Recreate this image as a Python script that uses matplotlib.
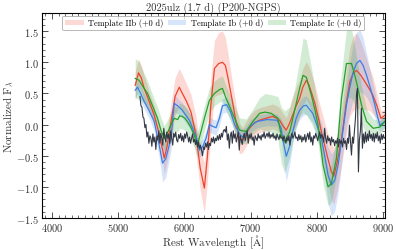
import numpy as np
import matplotlib
matplotlib.use("Agg")
import matplotlib.pyplot as plt
from matplotlib.ticker import MultipleLocator

plt.rcParams['font.family'] = ['cmr10', 'DejaVu Serif']
plt.rcParams['mathtext.fontset'] = 'cm'
plt.rcParams['axes.formatter.use_mathtext'] = True

# observed spectrum (normalized)
obs_wl = [5330, 5345, 5360, 5375, 5390, 5405, 5420, 5435, 5450, 5465, 5480, 5495, 5510, 5525, 5540,
          5555, 5570, 5585, 5600, 5615, 5630, 5645, 5660, 5675, 5690, 5705, 5720, 5735, 5750, 5765,
          5780, 5795, 5810, 5825, 5840, 5855, 5870, 5885, 5900, 5915, 5930, 5945, 5960, 5975, 5990,
          6005, 6020, 6035, 6050, 6065, 6080, 6095, 6110, 6125, 6140, 6155, 6170, 6185, 6200, 6215,
          6230, 6245, 6260, 6275, 6290, 6305, 6320, 6335, 6350, 6365, 6380, 6395, 6410, 6425, 6440,
          6455, 6470, 6485, 6500, 6515, 6530, 6545, 6560, 6575, 6590, 6605, 6620, 6635, 6650, 6665,
          6680, 6695, 6710, 6725, 6740, 6755, 6770, 6785, 6800, 6815, 6830, 6845, 6860, 6875, 6890,
          6905, 6920, 6935, 6950, 6965, 6980, 6995, 7010, 7025, 7040, 7055, 7070, 7085, 7100, 7115,
          7130, 7145, 7160, 7175, 7190, 7205, 7220, 7235, 7250, 7265, 7280, 7295, 7310, 7325, 7340,
          7355, 7370, 7385, 7400, 7415, 7430, 7445, 7460, 7475, 7490, 7505, 7520, 7535, 7550, 7565,
          7580, 7595, 7610, 7625, 7640, 7655, 7670, 7685, 7700, 7715, 7730, 7745, 7760, 7775, 7790,
          7805, 7820, 7835, 7850, 7865, 7880, 7895, 7910, 7925, 7940, 7955, 7970, 7985, 8000, 8015,
          8030, 8045, 8060, 8075, 8090, 8105, 8120, 8135, 8150, 8165, 8180, 8195, 8210, 8225, 8240,
          8255, 8270, 8285, 8300, 8315, 8330, 8345, 8360, 8375, 8390, 8405, 8420, 8435, 8450, 8465,
          8480, 8495, 8510, 8525, 8540, 8555, 8570, 8585, 8600, 8615, 8630, 8645, 8660, 8675, 8690,
          8705, 8720, 8735, 8750, 8765, 8780, 8795, 8810, 8825, 8840, 8855, 8870, 8885, 8900, 8915,
          8930, 8945, 8960, 8975, 8990, 9005, 9020]
obs_flux = [0.45, 0.30, 0.28, 0.12, 0.10, -0.05, 0.00, -0.20, -0.12, -0.30, -0.18, -0.22, -0.35, -0.15, -0.28,
            -0.20, -0.40, -0.18, -0.25, -0.10, -0.30, -0.14, -0.22, -0.33, -0.06, -0.20, -0.28, -0.12, -0.22, -0.15,
            -0.30, -0.10, -0.22, -0.33, -0.14, -0.20, -0.12, -0.25, -0.28, -0.16, -0.22, -0.14, -0.26, -0.18, -0.28,
            -0.15, -0.22, -0.12, -0.18, -0.28, -0.20, -0.30, -0.22, -0.15, -0.28, -0.24, -0.32, -0.25, -0.36, -0.28,
            -0.38, -0.33, -0.42, -0.50, -0.36, -0.40, -0.30, -0.36, -0.28, -0.40, -0.30, -0.34, -0.22, -0.28, -0.20,
            -0.30, -0.22, -0.26, -0.18, -0.25, -0.16, -0.24, -0.14, -0.20, -0.10, -0.08, -0.12, -0.03, -0.25, -0.15,
            -0.38, -0.18, -0.12, -0.30, -0.10, -0.22, -0.15, -0.28, -0.20, -0.12, -0.41, -0.18, -0.25, -0.32, -0.20,
            -0.14, -0.26, -0.18, -0.10, -0.30, -0.16, -0.22, -0.14, -0.25, -0.20, -0.33, -0.18, -0.22, -0.26, -0.15,
            -0.22, -0.18, -0.25, -0.16, -0.20, -0.12, -0.22, -0.18, -0.14, -0.20, -0.12, -0.22, -0.16, -0.20, -0.14,
            -0.22, -0.18, -0.25, -0.15, -0.20, -0.24, -0.16, -0.22, -0.20, -0.26, -0.18, -0.24, -0.30, -0.20, -0.26,
            -0.18, -0.33, -0.20, -0.14, -0.22, -0.18, -0.12, -0.22, -0.20, -0.26, -0.16, -0.24, -0.18, -0.28, -0.20,
            -0.25, -0.16, -0.28, -0.20, -0.14, -0.24, -0.12, -0.28, -0.20, -0.33, -0.18, -0.22, -0.14, -0.20, -0.26,
            -0.18, -0.12, -0.22, -0.16, -0.20, -0.28, -0.06, -0.22, -0.30, -0.18, -0.26, -0.22, -0.33, -0.20, -0.28,
            -0.24, -0.34, -0.26, -0.30, -0.22, -0.36, -0.24, -0.30, -0.26, -0.36, -0.22, -0.30, -0.26, -0.40, -0.22,
            -0.30, -0.01, -0.28, -0.49, -0.20, -0.30, -0.10, 0.10, 0.47, 0.58, -0.76, -0.25, -0.10, 0.26, -0.38,
            -0.15, -0.30, -0.12, -0.28, -0.15, -0.26, -0.10, -0.22, -0.16, -0.26, -0.14, -0.28, -0.15, -0.22, -0.12,
            -0.26, -0.18, -0.30, -0.15, -0.24, -0.16, -0.22]

# template IIb
iib_wl = [5258, 5308, 5350, 5394, 5470, 5545, 5620, 5671, 5697, 5740, 5800, 5860, 5924, 5970, 6030,
          6101, 6177, 6240, 6303, 6350, 6400, 6455, 6520, 6576, 6620, 6652, 6690, 6727, 6780, 6833,
          6879, 6930, 6985, 7060, 7136, 7230, 7333, 7400, 7439, 7490, 7540, 7590, 7636, 7690, 7742,
          7790, 7843, 7880, 7919, 7970, 8015, 8090, 8167, 8220, 8258, 8310, 8374, 8440, 8500, 8550,
          8601, 8660, 8727, 8790, 8848, 8910, 8970, 9030]
iib_flux = [0.63, 0.83, 0.75, 0.58, 0.37, 0.15, -0.15, -0.40, -0.54, -0.35, 0.05, 0.45, 0.60, 0.50, 0.38,
            0.20, -0.17, -0.70, -1.02, -0.50, 0.30, 0.90, 0.98, 1.00, 0.95, 0.79, 0.58, 0.37, 0.05, -0.22,
            -0.25, -0.15, -0.06, 0.03, 0.07, 0.10, 0.13, 0.10, 0.07, -0.02, -0.09, 0.02, 0.15, 0.30, 0.42,
            0.60, 0.71, 0.64, 0.52, 0.35, 0.15, -0.20, -0.54, -0.75, -0.83, -0.60, -0.22, 0.30, 0.69, 0.82,
            0.87, 0.80, 0.69, 0.58, 0.47, 0.30, 0.10, 0.15]
iib_err = [0.22, 0.22, 0.2, 0.2, 0.15, 0.15, 0.15, 0.2, 0.25, 0.25, 0.3, 0.3, 0.3, 0.3, 0.28,
           0.28, 0.3, 0.35, 0.4, 0.4, 0.45, 0.45, 0.5, 0.5, 0.45, 0.4, 0.35, 0.3, 0.28, 0.25,
           0.2, 0.2, 0.2, 0.2, 0.2, 0.2, 0.2, 0.2, 0.2, 0.2, 0.2, 0.25, 0.28, 0.3, 0.3,
           0.3, 0.3, 0.3, 0.3, 0.3, 0.3, 0.35, 0.4, 0.45, 0.45, 0.45, 0.45, 0.5, 0.55, 0.6,
           0.6, 0.55, 0.45, 0.35, 0.3, 0.2, 0.12, 0.1]

# template Ib
ib_wl = [5258, 5293, 5340, 5394, 5470, 5545, 5621, 5671, 5720, 5798, 5848, 5900, 5970, 6076, 6177,
         6227, 6280, 6328, 6379, 6430, 6480, 6530, 6576, 6640, 6700, 6760, 6833, 6880, 6950, 7000,
         7100, 7250, 7400, 7460, 7500, 7540, 7590, 7636, 7690, 7742, 7800, 7843, 7939, 8000, 8071,
         8120, 8171, 8222, 8270, 8323, 8390, 8449, 8500, 8550, 8600, 8652, 8700, 8753, 8820, 8879,
         8920, 8955, 9030]
ib_flux = [0.55, 0.60, 0.50, 0.37, 0.22, 0.05, -0.33, -0.62, -0.55, -0.22, 0.34, 0.30, 0.23, 0.07, -0.19,
           -0.41, -0.35, -0.22, 0.00, -0.03, -0.05, 0.10, 0.30, 0.32, 0.20, 0.00, -0.15, -0.20, -0.10, -0.02,
           0.05, 0.08, 0.07, -0.05, -0.30, -0.51, -0.35, -0.12, 0.10, 0.23, 0.30, 0.31, 0.18, 0.00, -0.22,
           -0.50, -0.81, -0.97, -0.90, -0.65, -0.15, 0.31, 0.60, 0.84, 0.98, 1.03, 0.95, 0.79, 0.55, 0.31,
           0.12, -0.01, 0.05]
ib_err = [0.12, 0.12, 0.12, 0.12, 0.12, 0.15, 0.2, 0.3, 0.3, 0.2, 0.15, 0.12, 0.12, 0.12, 0.12,
          0.12, 0.12, 0.12, 0.12, 0.12, 0.12, 0.12, 0.12, 0.12, 0.12, 0.12, 0.12, 0.12, 0.1, 0.1,
          0.1, 0.1, 0.1, 0.15, 0.3, 0.4, 0.3, 0.2, 0.15, 0.15, 0.15, 0.15, 0.15, 0.2, 0.25,
          0.35, 0.45, 0.5, 0.5, 0.45, 0.35, 0.35, 0.4, 0.45, 0.5, 0.5, 0.45, 0.35, 0.25, 0.2,
          0.15, 0.1, 0.1]

# template Ic
ic_wl = [5258, 5318, 5380, 5444, 5520, 5595, 5650, 5697, 5760, 5820, 5848, 5900, 5930, 5970, 6010,
         6045, 6100, 6152, 6197, 6250, 6303, 6379, 6455, 6530, 6576, 6631, 6680, 6727, 6780, 6833,
         6934, 7030, 7136, 7220, 7313, 7414, 7465, 7515, 7590, 7667, 7742, 7793, 7843, 7919, 7970,
         8020, 8096, 8171, 8220, 8298, 8374, 8449, 8525, 8560, 8601, 8677, 8753, 8853, 8955, 9030]
ic_flux = [0.74, 0.71, 0.60, 0.50, 0.30, 0.10, -0.10, -0.22, -0.10, 0.05, 0.10, 0.08, 0.14, 0.13, 0.10,
           0.05, -0.05, -0.17, -0.33, -0.12, 0.10, 0.39, 0.50, 0.56, 0.58, 0.42, 0.30, 0.18, 0.05, -0.09,
           -0.11, 0.04, 0.18, 0.20, 0.18, 0.10, -0.17, -0.28, -0.12, 0.23, 0.58, 0.79, 0.76, 0.47, 0.25,
           -0.01, -0.65, -1.00, -0.95, -0.54, 0.42, 0.98, 0.98, 0.85, 0.68, 0.31, 0.05, -0.06, -0.04, 0.05]
ic_err = [0.32, 0.3, 0.25, 0.2, 0.18, 0.18, 0.2, 0.2, 0.2, 0.2, 0.2, 0.2, 0.2, 0.2, 0.2,
          0.2, 0.2, 0.2, 0.2, 0.2, 0.2, 0.2, 0.2, 0.2, 0.2, 0.2, 0.2, 0.2, 0.2, 0.2,
          0.2, 0.2, 0.25, 0.3, 0.3, 0.35, 0.45, 0.5, 0.4, 0.35, 0.45, 0.6, 0.6, 0.45, 0.35,
          0.3, 0.3, 0.3, 0.3, 0.3, 0.4, 0.55, 0.55, 0.5, 0.4, 0.3, 0.2, 0.15, 0.1, 0.1]

templates = [
    ("Template IIb (+0 d)", iib_wl, iib_flux, iib_err, "#f0432c"),
    ("Template Ib (+0 d)", ib_wl, ib_flux, ib_err, "#3b7fe6"),
    ("Template Ic (+0 d)", ic_wl, ic_flux, ic_err, "#22a22a"),
]

fig = plt.figure(figsize=(3.96, 2.51), dpi=100)
ax = fig.add_axes([0.106, 0.1275, 0.866, 0.8165])

for label, wl, fl, er, c in templates:
    wl = np.array(wl)
    fl = np.array(fl)
    er = np.array(er)
    ax.fill_between(wl, fl - er, fl + er, color=c, alpha=0.2, lw=0, label=label)
    ax.plot(wl, fl, color=c, lw=0.9)

ax.plot(obs_wl, obs_flux, color="#323844", lw=0.8)

ax.set_xlim(3850, 9030)
ax.set_ylim(-1.5, 1.79)
ax.xaxis.set_major_locator(MultipleLocator(1000))
ax.xaxis.set_minor_locator(MultipleLocator(100))
ax.yaxis.set_major_locator(MultipleLocator(0.5))
ax.yaxis.set_minor_locator(MultipleLocator(0.1))
ax.tick_params(which='both', direction='in', top=True, right=True, labelsize=7.5, colors='#333333')
ax.tick_params(which='major', length=4, width=0.6, pad=2)
ax.tick_params(which='minor', length=2, width=0.5)
for s in ax.spines.values():
    s.set_linewidth(0.8)

ax.set_xlabel(r'Rest Wavelength [$\mathrm{\AA}$]', fontsize=8, labelpad=0, color='#333333')
ax.set_ylabel(r'Normalized F$_\lambda$', fontsize=8, labelpad=1, color='#333333')
ax.set_title('2025ulz (1.7 d) (P200-NGPS)', fontsize=7.5, pad=2, color='#333333')

leg = ax.legend(loc='upper center', ncol=3, fontsize=6, frameon=True, fancybox=True,
                borderaxespad=0.3, handlelength=2.2, columnspacing=0.6, handletextpad=0.5,
                borderpad=0.35, edgecolor='#999999')
leg.get_frame().set_linewidth(0.6)

fig.savefig("out.png", dpi=100)
